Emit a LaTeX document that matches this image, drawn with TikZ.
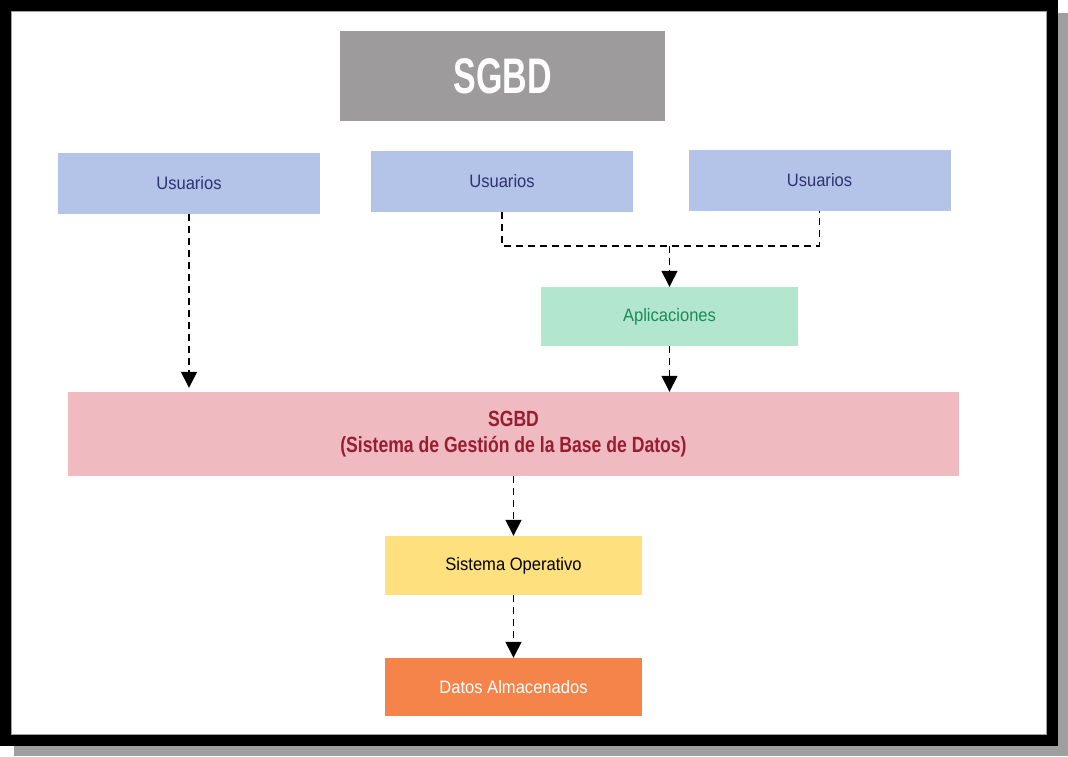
\documentclass[tikz,border=0pt]{standalone}
\usepackage{fontspec}
\setmainfont[FakeStretch=0.92]{Liberation Sans}
\newfontfamily\titlefont[FakeStretch=0.68]{Liberation Sans}
\newfontfamily\boldfont[FakeStretch=0.80]{Liberation Sans}
\usetikzlibrary{arrows.meta}
\definecolor{shadowgray}{HTML}{A09FA0}
\definecolor{titlegray}{HTML}{9D9B9C}
\definecolor{userblue}{HTML}{B4C3E8}
\definecolor{usertext}{HTML}{2C3470}
\definecolor{appgreen}{HTML}{B3E6CF}
\definecolor{apptext}{HTML}{1B8B57}
\definecolor{sgbdpink}{HTML}{F0BAC1}
\definecolor{sgbdtext}{HTML}{9A1C32}
\definecolor{soyellow}{HTML}{FEE07E}
\definecolor{datorange}{HTML}{F5844A}
\tikzset{
  box/.style={rectangle, draw=none, inner sep=0pt, align=center, font=\fontsize{18}{21}\selectfont},
  userbox/.style={box, fill=userblue, text=usertext, minimum width=262, minimum height=61},
  dashline/.style={line width=1.4pt, dash pattern=on 7pt off 5pt},
  arrowline/.style={dashline, -{Triangle[width=16pt,length=16pt]}}
}
\begin{document}
\begin{tikzpicture}[x=1pt,y=-1pt]
\useasboundingbox (0,0) rectangle (1068,756);
% frame
\fill[shadowgray] (14,13) rectangle (1068,756);
\fill[black] (0,0) rectangle (1058,746);
\fill[white] (11,11) rectangle (1047,735);
\draw[shadowgray, line width=0.8pt] (11.5,11.5) rectangle (1046.5,734.5);
% nodes
\node[box, fill=titlegray, text=white, minimum width=325, minimum height=90,
      font=\titlefont\bfseries\fontsize{50}{60}\selectfont] (title) at (502.5,76) {SGBD};
\node[userbox] (u1) at (189,183.5) {Usuarios};
\node[userbox] (u2) at (502,181.5) {Usuarios};
\node[userbox] (u3) at (819.5,180.5) {Usuarios};
\node[box, fill=appgreen, text=apptext, minimum width=257, minimum height=59] (apl) at (669.5,316.5) {Aplicaciones};
\node[box, fill=sgbdpink, text=sgbdtext, minimum width=891, minimum height=84,
      font=\boldfont\bfseries\fontsize{22}{26}\selectfont] (sgbd) at (513.5,434) {SGBD\\(Sistema de Gestión de la Base de Datos)};
\node[box, fill=soyellow, text=black, minimum width=257, minimum height=59] (so) at (513.5,565.5) {Sistema Operativo};
\node[box, fill=datorange, text=white, minimum width=257, minimum height=58] (dat) at (513.5,687) {Datos Almacenados};
% connectors
\coordinate (j) at (669.5,246);
\draw[arrowline, shorten >=4pt] (u1.south) -- (u1.south |- sgbd.north);
\draw[dashline] (u2.south) -- (u2.south |- j) -- (u3.south |- j) -- (u3.south);
\draw[arrowline] (j) -- (apl.north);
\draw[arrowline] (apl.south) -- (apl.south |- sgbd.north);
\draw[arrowline] (sgbd.south -| so.north) -- (so.north);
\draw[arrowline] (so.south) -- (dat.north);
\end{tikzpicture}
\end{document}
